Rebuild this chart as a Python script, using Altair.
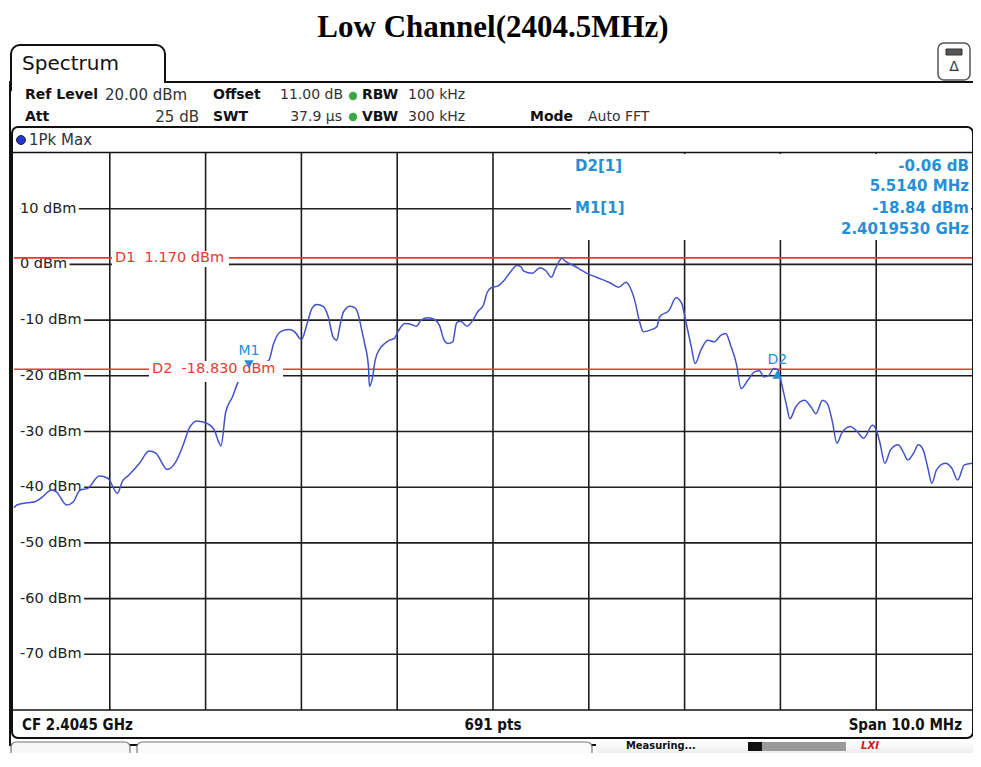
import altair as alt
import pandas as pd

# ---------------- data ----------------
start_mhz = 2399.5
span_mhz = 10.0
ref_level = 20.0
bottom_level = -80.0

trace_offset_mhz = [
    0.00, 0.03, 0.13, 0.22, 0.30, 0.39, 0.44, 0.55, 0.62, 0.69, 0.77, 0.89, 0.98,
    1.08, 1.13, 1.20, 1.31, 1.41, 1.48, 1.60, 1.69, 1.76, 1.83, 1.91, 2.02, 2.09,
    2.14, 2.16, 2.21, 2.28, 2.34, 2.45, 2.55, 2.66, 2.71, 2.78, 2.87, 2.93, 3.00,
    3.06, 3.11, 3.16, 3.23, 3.28, 3.33, 3.37, 3.40, 3.44, 3.51, 3.56, 3.59, 3.63,
    3.66, 3.70, 3.71, 3.74, 3.77, 3.82, 3.87, 3.92, 3.97, 4.01, 4.08, 4.15, 4.20,
    4.25, 4.32, 4.39, 4.44, 4.49, 4.53, 4.58, 4.62, 4.66, 4.73, 4.79, 4.84, 4.90,
    4.94, 4.99, 5.05, 5.11, 5.18, 5.25, 5.29, 5.32, 5.41, 5.49, 5.55, 5.61, 5.65,
    5.70, 5.72, 5.74, 5.84, 5.98, 6.08, 6.22, 6.31, 6.39, 6.43, 6.48, 6.53, 6.57,
    6.64, 6.71, 6.74, 6.84, 6.91, 6.97, 7.01, 7.07, 7.11, 7.17, 7.24, 7.31, 7.38,
    7.43, 7.48, 7.54, 7.59, 7.66, 7.73, 7.78, 7.83, 7.88, 7.93, 7.97, 8.02, 8.06,
    8.10, 8.16, 8.25, 8.32, 8.37, 8.44, 8.49, 8.54, 8.59, 8.64, 8.73, 8.80, 8.87,
    8.96, 9.00, 9.04, 9.09, 9.15, 9.23, 9.28, 9.33, 9.39, 9.44, 9.49, 9.54, 9.58,
    9.63, 9.72, 9.79, 9.85, 9.92, 10.00,
]
trace_dbm = [
    -43.7, -43.2, -42.8, -42.6, -41.7, -40.5, -40.8, -43.2, -42.6, -40.5, -40.2, -38.0, -38.4,
    -41.1, -39.0, -37.8, -35.7, -33.5, -33.9, -36.8, -35.4, -32.7, -29.4, -28.1, -28.6, -29.7,
    -32.0, -32.6, -26.5, -23.8, -21.1, -18.84, -18.0, -17.2, -14.2, -12.1, -11.7, -12.1, -13.5,
    -10.6, -7.9, -7.2, -7.6, -9.4, -13.0, -13.6, -11.2, -8.5, -7.5, -7.8, -8.8, -11.8,
    -14.2, -18.4, -21.9, -20.5, -17.2, -15.1, -14.2, -13.6, -13.3, -12.0, -10.6, -10.8, -11.1,
    -10.0, -9.6, -9.9, -10.9, -13.6, -14.2, -13.9, -10.5, -10.2, -11.1, -10.0, -8.5, -7.3,
    -5.0, -4.1, -3.9, -3.0, -1.4, -0.2, -0.4, -1.2, -1.6, -0.6, -1.1, -2.3, -0.8,
    0.8, 1.17, 0.8, -0.2, -1.6, -2.3, -3.3, -4.1, -3.2, -4.1, -6.5, -10.3, -12.1,
    -11.8, -11.2, -9.4, -8.2, -6.0, -7.0, -10.0, -14.8, -17.8, -15.4, -13.6, -13.9, -12.7,
    -12.4, -14.5, -17.8, -22.3, -20.8, -19.3, -19.1, -20.2, -19.9, -18.7, -18.9, -22.0, -25.0,
    -27.7, -25.6, -24.4, -25.6, -26.8, -24.4, -25.0, -28.0, -32.1, -30.3, -29.1, -30.0, -31.2,
    -28.9, -29.7, -32.1, -35.7, -33.3, -32.4, -33.6, -35.1, -33.9, -32.4, -33.3, -36.6, -39.3,
    -36.9, -35.7, -36.6, -38.7, -36.0, -35.7,
]

grid_levels = [10, 0, -10, -20, -30, -40, -50, -60, -70]
grid_labels = ["10 dBm", "0 dBm", "-10 dBm", "-20 dBm", "-30 dBm", "-40 dBm",
               "-50 dBm", "-60 dBm", "-70 dBm"]
grid_div_mhz = [1, 2, 3, 4, 5, 6, 7, 8, 9]

dline_names = ["D1", "D2"]
dline_levels = [1.17, -18.83]
dline_texts = ["D1 \u00a01.170 dBm", "D2 \u00a0-18.830 dBm"]

m1_freq_mhz = 2401.953
m1_level = -18.84
d2_delta_mhz = 5.514
d2_delta_db = -0.06

# ---------------- layout helpers ----------------
W, H = 958, 557
LEFT, TOP = 14, 153          # page position of plot area
RIGHT = LEFT + W             # page x of plot right edge


def px(x):
    return x - LEFT


def py(y):
    return y - TOP


ONE = alt.Data(values=[{"k": 1}])
UI = "DejaVu Sans"
COND = "DejaVu Sans Condensed"
BLUE_TXT = "#2590d6"
RED = "#e53b30"
TRACE = "#4253c8"
GRID = "#1e1e1e"

xs = alt.Scale(domain=[start_mhz, start_mhz + span_mhz], nice=False, zero=False)
ys = alt.Scale(domain=[bottom_level, ref_level], nice=False, zero=False)


def box(x1, y1, x2, y2, **kw):
    return alt.Chart(ONE).mark_rect(**kw).encode(
        x=alt.value(px(x1)), x2=alt.value(px(x2)),
        y=alt.value(py(y1)), y2=alt.value(py(y2)))


def hline(x1, x2, y, color="#111", w=1.5):
    return alt.Chart(ONE).mark_rule(color=color, strokeWidth=w).encode(
        x=alt.value(px(x1)), x2=alt.value(px(x2)), y=alt.value(py(y)))


def txt(s, x, y, size=14, weight="normal", color="#111", align="left", font=UI, **kw):
    return alt.Chart(ONE).mark_text(
        text=s, align=align, baseline="middle", fontSize=size, fontWeight=weight,
        color=color, font=font, **kw).encode(x=alt.value(px(x)), y=alt.value(py(y)))


# ---------------- data frames ----------------
trace_df = pd.DataFrame({"freq": [start_mhz + o for o in trace_offset_mhz], "level": trace_dbm})
hgrid_df = pd.DataFrame({"level": grid_levels, "label": grid_labels})
vgrid_df = pd.DataFrame({"freq": [start_mhz + d for d in grid_div_mhz]})
dline_df = pd.DataFrame({"name": dline_names, "level": dline_levels, "text": dline_texts})
m1_df = pd.DataFrame({"freq": [m1_freq_mhz], "level": [m1_level], "name": ["M1"]})
d2_df = pd.DataFrame({"freq": [m1_freq_mhz + d2_delta_mhz], "level": [m1_level + d2_delta_db], "name": ["D2"]})

X = alt.X("freq:Q", scale=xs, axis=None)
Y = alt.Y("level:Q", scale=ys, axis=None)

layers = []

# ---- instrument frame ----
layers.append(box(10, 82, 990, 745, fill="white", stroke="#111", strokeWidth=2))
layers.append(box(11, 45, 165, 95, fill="white", stroke="#111", strokeWidth=2, cornerRadius=9))
layers.append(box(12, 83, 167, 100, fill="white"))
layers.append(box(938, 43, 970, 80, fill="white", stroke="#555", strokeWidth=1.5, cornerRadius=6))
layers.append(box(946, 49, 962, 55, fill="#555", stroke="#333", strokeWidth=1))
layers.append(txt("Δ", 954, 67, size=14, color="#333", align="center"))
layers.append(box(12, 127, RIGHT + 1, 738, fill="white", stroke="#111", strokeWidth=2, cornerRadius=6))
layers.append(hline(12, RIGHT + 1, 152.5, w=1.5))

# ---- title and header text ----
layers.append(txt("Low Channel(2404.5MHz)", 493, 28, size=31, weight="bold",
                  font="Liberation Serif", align="center", color="#000"))
layers.append(txt("Spectrum", 22, 64, size=20, color="#111"))

layers.append(txt("Ref Level", 25, 95, size=14, weight="bold"))
layers.append(txt("20.00 dBm", 105, 95, size=15, color="#333"))
layers.append(txt("Offset", 213, 95, size=14, weight="bold"))
layers.append(txt("11.00 dB", 280, 95, size=14, color="#333"))
layers.append(txt("RBW", 362, 95, size=14, weight="bold"))
layers.append(txt("100 kHz", 408, 95, size=14, color="#333"))
layers.append(txt("Att", 25, 117, size=14, weight="bold"))
layers.append(txt("25 dB", 199, 117, size=15, align="right", color="#333"))
layers.append(txt("SWT", 213, 117, size=14, weight="bold"))
layers.append(txt("37.9 µs", 342, 117, size=14, align="right", color="#333"))
layers.append(txt("VBW", 362, 117, size=14, weight="bold"))
layers.append(txt("300 kHz", 408, 117, size=14, color="#333"))
layers.append(txt("Mode", 530, 117, size=14, weight="bold"))
layers.append(txt("Auto FFT", 588, 117, size=14, color="#333"))
for yy in (96, 117):
    layers.append(alt.Chart(ONE).mark_point(shape="circle", filled=True, size=70,
                                            color="#3aa845", opacity=1).encode(
        x=alt.value(px(353)), y=alt.value(py(yy))))
layers.append(alt.Chart(ONE).mark_point(shape="circle", filled=True, size=80, color="#2235d0",
                                        stroke="#223", strokeWidth=1, opacity=1).encode(
    x=alt.value(px(21)), y=alt.value(py(140))))
layers.append(txt("1Pk Max", 29, 140, size=15, color="#333"))

# ---- grid ----
layers.append(alt.Chart(vgrid_df).mark_rule(color=GRID, strokeWidth=1.6).encode(
    x=X, y=alt.value(0), y2=alt.value(H)))
layers.append(alt.Chart(hgrid_df).mark_rule(color=GRID, strokeWidth=1.6).encode(
    y=Y, x=alt.value(6), x2=alt.value(W)))
layers.append(hline(12, RIGHT + 1, TOP + H, w=1.6))
# marker readout panel background
layers.append(box(571, 154, RIGHT - 1, 240, fill="white"))

# y labels (white halo then text)
layers.append(alt.Chart(hgrid_df).mark_text(
    align="left", baseline="middle", fontSize=14.5, font=UI, color="white",
    stroke="white", strokeWidth=7, strokeJoin="round").encode(
    y=Y, x=alt.value(px(20)), text="label:N"))
layers.append(alt.Chart(hgrid_df).mark_text(
    align="left", baseline="middle", fontSize=14.5, font=UI, color="#222").encode(
    y=Y, x=alt.value(px(20)), text="label:N"))

# display lines
layers.append(alt.Chart(dline_df).mark_rule(color=RED, strokeWidth=1.6).encode(
    y=Y, x=alt.value(0), x2=alt.value(W)))

# trace
layers.append(alt.Chart(trace_df).mark_line(color=TRACE, strokeWidth=1.5,
                                            interpolate="monotone").encode(x=X, y=Y))

# display line labels with white background
layers.append(box(112, 251, 229, 267, fill="white"))
layers.append(box(149, 361, 283, 382, fill="white"))
layers.append(alt.Chart(dline_df.iloc[[0]]).mark_text(
    align="left", baseline="middle", fontSize=14.5, font=UI, color=RED).encode(
    y=Y, x=alt.value(px(115)), text="text:N"))
layers.append(alt.Chart(dline_df.iloc[[1]]).mark_text(
    align="left", baseline="middle", fontSize=14.5, font=UI, color=RED).encode(
    y=Y, x=alt.value(px(152)), text="text:N"))

# markers
layers.append(alt.Chart(m1_df).mark_point(shape="triangle-down", filled=True, size=90,
                                          color="#1f8fd8", opacity=1, yOffset=-5).encode(x=X, y=Y))
layers.append(alt.Chart(m1_df).mark_text(fontSize=14, font=UI, color=BLUE_TXT,
                                         baseline="middle", dy=-18).encode(x=X, y=Y, text="name:N"))
layers.append(alt.Chart(d2_df).mark_point(shape="triangle-up", filled=True, size=90,
                                          color="#1f8fd8", opacity=1, yOffset=5).encode(x=X, y=Y))
layers.append(alt.Chart(d2_df).mark_text(fontSize=14, font=UI, color=BLUE_TXT,
                                         baseline="middle", dy=-10).encode(x=X, y=Y, text="name:N"))

# marker readout
RX = RIGHT - 3
layers.append(txt("D2[1]", 575, 166, size=15, weight="bold", color=BLUE_TXT))
layers.append(txt("M1[1]", 575, 208, size=15, weight="bold", color=BLUE_TXT))
layers.append(txt("-0.06 dB", RX, 166, size=15, weight="bold", color=BLUE_TXT, align="right"))
layers.append(txt("5.5140 MHz", RX, 186, size=15, weight="bold", color=BLUE_TXT, align="right"))
layers.append(txt("-18.84 dBm", RX, 208, size=15, weight="bold", color=BLUE_TXT, align="right"))
layers.append(txt("2.4019530 GHz", RX, 229, size=15, weight="bold", color=BLUE_TXT, align="right"))

# bottom bar
layers.append(txt("CF 2.4045 GHz", 22, 725, size=15, weight="bold", font=COND))
layers.append(txt("691 pts", 493, 725, size=15, weight="bold", font=COND, align="center"))
layers.append(txt("Span 10.0 MHz", RIGHT - 10, 725, size=15, weight="bold", font=COND, align="right"))

# status bar
grad = alt.LinearGradient(gradient="linear", x1=0, x2=0, y1=0, y2=1,
                          stops=[alt.GradientStop(color="#ffffff", offset=0),
                                 alt.GradientStop(color="#cfcfcf", offset=1)])
layers.append(box(11, 742, 130, 775, fill="#f7f7f7", stroke="#777", strokeWidth=1.2, cornerRadius=5))
layers.append(box(137, 742, 592, 775, fill="#fbfbfb", stroke="#777", strokeWidth=1.2, cornerRadius=5))
layers.append(box(596, 741, 990, 775, fill=grad))
layers.append(txt("Measuring...", 626, 746, size=11, weight="bold", font=COND))
layers.append(box(748, 742, 846, 751, fill="#9a9a9a"))
layers.append(box(748, 742, 762, 751, fill="#111"))
layers.append(txt("LXI", 870, 746, size=10, weight="bold", color="#d01818", align="center",
                  fontStyle="italic"))

chart = alt.layer(*layers).properties(
    width=W, height=H,
    padding={"left": 6, "top": 145, "right": 965 - 6 - W, "bottom": 43},
    autosize=alt.AutoSizeParams(type="none"),
    background="white",
).configure_view(stroke=None)

chart.save("out.html", embed_options={"renderer": "svg", "actions": False})
